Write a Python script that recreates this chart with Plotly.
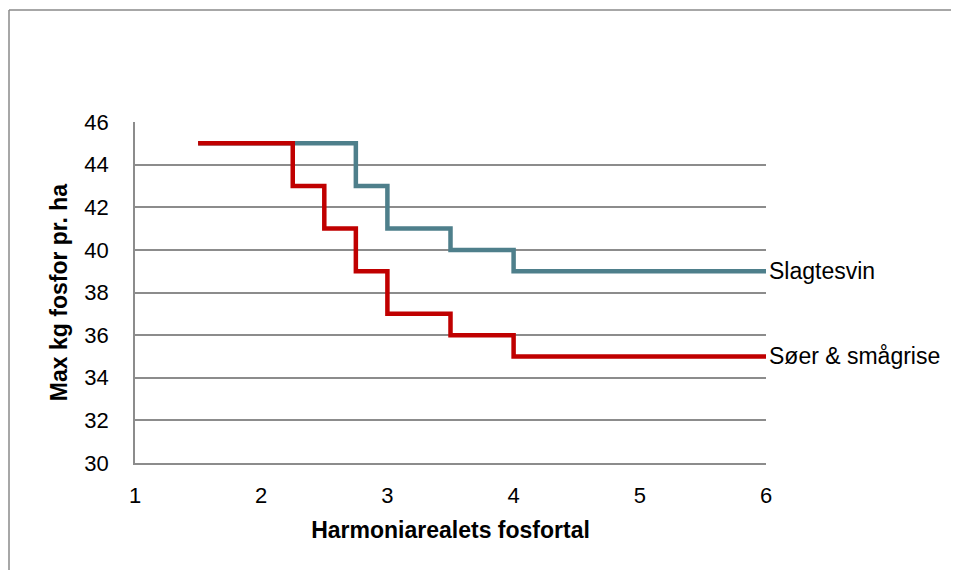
import plotly.graph_objects as go

# Data
slagtesvin_x = [1.5, 2.75, 3.0, 3.5, 4.0, 6.0]
slagtesvin_y = [45, 43, 41, 40, 39, 39]
soer_x = [1.5, 2.25, 2.5, 2.75, 3.0, 3.5, 4.0, 6.0]
soer_y = [45, 43, 41, 39, 37, 36, 35, 35]
series_names = ["Slagtesvin", "Søer & smågrise"]
x_ticks = [1, 2, 3, 4, 5, 6]
y_ticks = [30, 32, 34, 36, 38, 40, 42, 44, 46]

TEAL = "#4E7F8B"
RED = "#C00000"
GRID = "#8C8C8C"
FONT = "Liberation Sans"
FS = 22
FS_BIG = 23

# page body has an 8px margin, so the figure is offset by 8px
L, T, PW, PH = 127, 114, 631, 341
W, H = 943, 562

fig = go.Figure()
fig.add_trace(go.Scatter(x=slagtesvin_x, y=slagtesvin_y, mode="lines",
                         line=dict(color=TEAL, width=4.5, shape="hv"),
                         name=series_names[0], showlegend=False))
fig.add_trace(go.Scatter(x=soer_x, y=soer_y, mode="lines",
                         line=dict(color=RED, width=4.5, shape="hv"),
                         name=series_names[1], showlegend=False))

fig.add_annotation(x=slagtesvin_x[-1], y=slagtesvin_y[-1], text=series_names[0],
                   xref="x", yref="y", xanchor="left", yanchor="middle",
                   showarrow=False, xshift=1, font=dict(family=FONT, size=FS_BIG, color="#000"))
fig.add_annotation(x=soer_x[-1], y=soer_y[-1], text=series_names[1],
                   xref="x", yref="y", xanchor="left", yanchor="middle",
                   showarrow=False, xshift=1, font=dict(family=FONT, size=FS_BIG, color="#000"))

# outer chart border (only left and top edges are visible in the reference)
bx0 = (1 - L) / PW
bx1 = (W - L) / PW
by_top = (T + PH - 2) / PH
by_bot = (T + PH - 640) / PH
fig.add_shape(type="line", xref="paper", yref="paper", x0=bx0, x1=bx0, y0=by_bot, y1=by_top,
              line=dict(color="#8A8A8A", width=1.5), layer="below")
fig.add_shape(type="line", xref="paper", yref="paper", x0=bx0, x1=bx1, y0=by_top, y1=by_top,
              line=dict(color="#8A8A8A", width=1.5), layer="below")

fig.update_layout(
    width=W, height=H,
    margin=dict(l=L, r=W - L - PW, t=T, b=H - T - PH),
    paper_bgcolor="white", plot_bgcolor="white",
    font=dict(family=FONT, size=FS, color="#000"),
    xaxis=dict(range=[1, 6], tickvals=x_ticks, showgrid=False, zeroline=False,
               showline=True, linecolor=GRID, linewidth=1.5, ticks="",
               ticklabelstandoff=12, tickfont=dict(size=FS),
               title=dict(text="<b>Harmoniarealets fosfortal</b>", font=dict(size=FS_BIG), standoff=15)),
    yaxis=dict(range=[30, 46], tickvals=y_ticks, showgrid=True, gridcolor=GRID, gridwidth=1.5,
               zeroline=False, showline=True, linecolor=GRID, linewidth=1.5, ticks="",
               ticklabelstandoff=20, tickfont=dict(size=FS),
               title=dict(text="<b>Max kg fosfor pr. ha</b>", font=dict(size=FS_BIG), standoff=10)),
)

fig.write_html("out.html")
